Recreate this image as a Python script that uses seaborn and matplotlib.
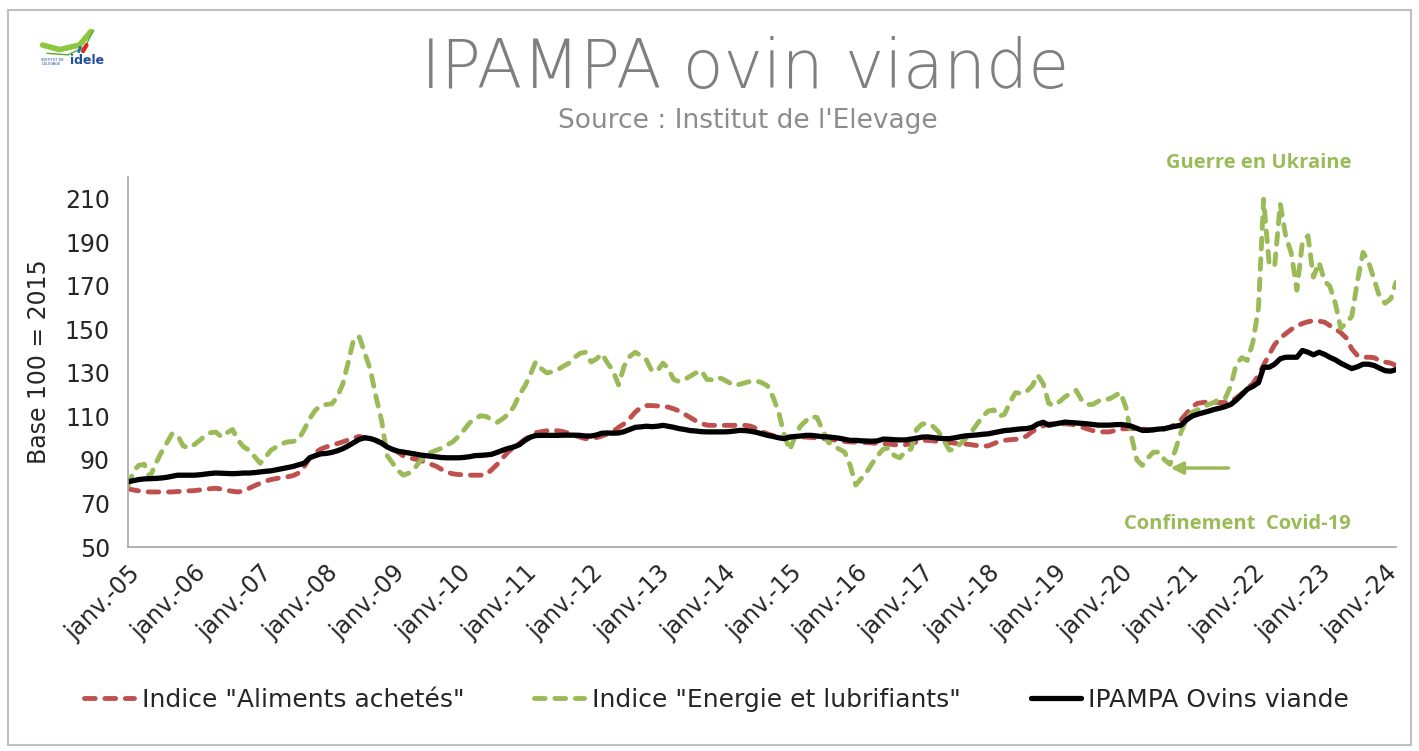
import matplotlib
matplotlib.use("Agg")
import matplotlib.pyplot as plt
from matplotlib.patches import Rectangle
from matplotlib.lines import Line2D
import numpy as np
import pandas as pd
import seaborn as sns

# monthly values, janv. 2005 -> mars 2024 (base 100 = 2015)
aliments = [
    76.8, 76.2, 75.8, 75.5, 75.3, 75.3, 75.3, 75.3, 75.3, 75.5, 75.6, 75.8,
    75.9, 76.2, 76.5, 76.8, 77.0, 76.6, 76.0, 75.6, 75.3, 75.8, 77.0, 78.2,
    79.3, 80.3, 81.0, 81.5, 81.9, 82.3, 82.8, 84.0, 87.0, 91.0, 93.3, 95.0,
    96.0, 96.8, 97.5, 98.3, 99.2, 100.2, 100.8, 100.2, 99.6, 98.8, 97.5, 96.3,
    95.0, 93.5, 91.8, 91.0, 90.5, 89.8, 89.0, 88.0, 87.0, 85.5, 84.3, 83.6,
    83.3, 83.2, 83.0, 83.0, 83.0, 83.3, 85.5, 88.0, 91.0, 93.8, 95.8, 97.5,
    99.5, 101.0, 102.5, 103.0, 103.4, 103.6, 103.4, 103.0, 102.2, 101.3, 100.5, 99.8,
    99.8, 100.3, 101.0, 102.0, 103.0, 105.0, 106.6, 109.0, 112.0, 114.0, 115.0, 115.0,
    114.8, 114.6, 114.3, 113.5, 112.5, 111.0, 109.5, 108.0, 106.8, 106.0, 105.9, 105.9,
    105.9, 105.9, 105.9, 105.9, 105.9, 105.5, 104.5, 103.0, 102.0, 101.2, 100.6, 100.4,
    100.6, 100.6, 100.6, 100.5, 100.3, 100.1, 99.9, 99.6, 99.2, 98.8, 98.5, 98.3,
    98.2, 98.0, 98.0, 97.8, 97.6, 97.5, 97.3, 97.0, 96.8, 97.0, 97.5, 98.3,
    99.0, 99.0, 98.8, 98.5, 98.3, 98.0, 97.7, 97.5, 97.3, 97.0, 96.6, 96.3,
    96.5, 97.5, 98.5, 99.0, 99.3, 99.5, 99.8, 101.0, 103.0, 104.5, 105.7, 106.5,
    106.6, 106.6, 106.6, 106.4, 106.0, 105.2, 104.3, 103.5, 103.0, 102.9, 102.9, 103.5,
    104.2, 104.4, 104.4, 104.4, 104.2, 104.0, 103.7, 103.8, 104.3, 105.0, 106.5, 108.5,
    111.5, 114.5, 116.0, 116.4, 116.8, 116.6, 116.4, 116.4, 116.8, 118.5, 120.5, 123.0,
    125.0, 129.0, 133.5, 138.5, 143.0, 146.0, 148.0, 150.0, 151.5, 152.7, 153.5, 154.0,
    153.8, 153.3, 151.8, 150.2, 148.5, 146.0, 141.0, 138.0, 137.2, 137.2, 137.0, 135.7,
    135.0, 134.5, 133.4,
]

energie = [
    78.0, 85.0, 87.5, 88.0, 82.0, 88.0, 93.0, 97.5, 102.0, 101.5, 96.5, 95.5,
    97.0, 99.0, 101.0, 102.5, 102.8, 100.6, 102.5, 104.0, 99.0, 96.0, 94.5, 91.5,
    88.5, 91.5, 94.5, 96.0, 97.5, 98.3, 98.5, 99.5, 104.0, 109.0, 112.8, 115.0,
    115.5, 115.8, 119.0, 125.0, 135.0, 146.0, 146.5, 139.0, 131.0, 119.0, 108.0, 92.0,
    88.5, 85.0, 83.0, 84.0, 86.0, 89.5, 92.0, 93.5, 94.5, 95.5, 97.0, 98.5,
    101.0, 104.0, 107.0, 109.0, 110.3, 110.0, 108.5, 107.3, 109.0, 111.0, 114.5, 120.0,
    124.0, 129.5, 135.0, 132.0, 130.0, 130.5, 131.5, 133.0, 134.5, 137.0, 139.0, 139.5,
    135.0, 136.5, 138.8, 134.5, 131.0, 124.5, 133.0, 137.5, 139.5, 138.0, 136.0, 131.0,
    131.0, 134.5, 132.0, 127.0, 126.0, 127.0, 128.5, 130.0, 131.0, 127.0, 126.8, 128.0,
    127.0, 125.5, 124.2, 124.8, 125.5, 126.2, 126.3, 125.5, 124.0, 119.0, 112.0, 102.0,
    94.5, 101.0, 105.5, 108.0, 110.0, 109.5, 104.0, 98.2, 96.5, 95.0, 93.6, 87.5,
    78.5, 81.5, 84.5, 88.5, 92.0, 95.0, 95.5, 92.0, 91.0, 94.0, 95.0, 104.0,
    106.5, 106.8, 105.5, 103.0, 99.0, 94.5, 95.0, 97.5, 100.0, 103.0, 106.5, 110.0,
    112.5, 113.0, 110.0, 111.0, 116.5, 121.0, 120.5, 121.5, 124.0, 129.0, 125.0, 116.0,
    115.0, 117.0, 119.0, 120.5, 122.0, 117.5, 115.5, 115.5, 117.0, 118.0, 118.0, 119.5,
    121.0, 114.0, 101.0, 90.0, 87.5, 91.0, 93.6, 93.6, 90.0, 88.0, 95.0, 103.0,
    109.0, 112.0, 113.0, 114.5, 115.5, 116.5, 118.0, 118.3, 124.0, 134.0, 137.0, 135.7,
    144.0, 160.0, 209.8, 180.0, 179.0, 207.6, 193.0, 185.0, 168.0, 190.0, 193.0, 174.0,
    180.8, 172.0, 170.0, 162.0, 150.5, 153.0, 156.0, 172.0, 185.4, 181.0, 173.0, 165.0,
    162.0, 164.0, 171.6,
]

ipampa = [
    80.0, 80.5, 81.0, 81.3, 81.4, 81.5, 81.7, 82.0, 82.5, 83.0, 83.0, 83.0,
    83.0, 83.2, 83.5, 83.8, 84.0, 83.9, 83.8, 83.7, 83.8, 84.0, 84.0, 84.2,
    84.5, 84.8, 85.0, 85.5, 86.0, 86.5, 87.0, 87.8, 88.5, 91.0, 92.0, 92.8,
    93.0, 93.5, 94.2, 95.2, 96.5, 98.0, 99.5, 100.2, 99.8, 99.0, 97.8, 96.0,
    94.8, 94.0, 93.6, 93.2, 92.8, 92.3, 92.0, 91.7, 91.4, 91.1, 91.0, 91.0,
    91.0, 91.2, 91.5, 92.0, 92.1, 92.3, 92.6, 93.5, 94.5, 95.3, 96.0, 97.0,
    99.0, 100.5, 101.2, 101.3, 101.3, 101.3, 101.3, 101.4, 101.4, 101.4, 101.3, 101.0,
    101.0, 101.5, 102.3, 102.4, 102.3, 102.4, 103.0, 104.0, 105.0, 105.2, 105.5, 105.3,
    105.5, 105.9, 105.5, 105.0, 104.4, 104.0, 103.5, 103.3, 103.0, 102.9, 102.9, 102.9,
    102.9, 103.0, 103.3, 103.6, 103.5, 103.2, 102.7, 102.0, 101.3, 100.8, 100.2, 99.8,
    100.5, 100.8, 101.0, 101.3, 101.3, 101.0, 100.7, 100.6, 100.3, 100.0, 99.5, 99.0,
    99.0, 98.8, 98.7, 98.6, 98.8, 99.6, 99.5, 99.3, 99.2, 99.2, 99.6, 100.0,
    100.5, 100.6, 100.3, 100.0, 99.8, 99.8, 100.2, 100.7, 101.1, 101.3, 101.5, 101.8,
    102.0, 102.5, 103.0, 103.5, 103.7, 104.0, 104.3, 104.4, 105.0, 106.5, 107.3, 106.0,
    106.5, 107.0, 107.4, 107.2, 107.0, 106.8, 106.6, 106.3, 106.0, 106.0, 106.0, 106.2,
    106.3, 106.0, 105.5, 104.5, 103.6, 103.6, 103.9, 104.2, 104.4, 105.0, 105.5, 106.0,
    108.5, 110.2, 111.0, 111.7, 112.4, 113.2, 113.8, 114.5, 115.5, 117.5, 120.0, 122.5,
    123.8, 125.5, 132.6, 132.6, 134.0, 136.5, 137.2, 137.2, 137.2, 140.3, 139.5, 138.3,
    139.5, 138.5, 137.2, 136.0, 134.5, 133.2, 132.0, 132.8, 134.0, 134.0, 133.4, 132.2,
    131.0, 130.8, 131.5,
]

years = list(range(2005, 2025))
year_labels = [f"janv.-{y % 100:02d}" for y in years]
series_names = ['Indice "Aliments achetés"', 'Indice "Energie et lubrifiants"', "IPAMPA Ovins viande"]

RED = "#c0504d"
GREEN = "#9bbb59"
GREY = "#7f7f7f"

sns.set_style("white")
plt.rcParams["font.family"] = ["DejaVu Sans"]

dates = pd.date_range("2005-01-01", periods=len(ipampa), freq="MS")
df = pd.DataFrame({"date": dates, "aliments": aliments, "energie": energie, "ipampa": ipampa})

fig = plt.figure(figsize=(14.19, 7.51), dpi=100)
ax = fig.add_axes([0.0902, 0.2716, 0.8936, 0.4927])

dash = (0, (2.2, 2.0))
sns.lineplot(data=df, x="date", y="aliments", ax=ax, color=RED, linewidth=3.5,
             linestyle=dash, dash_capstyle="round", label=series_names[0])
sns.lineplot(data=df, x="date", y="energie", ax=ax, color=GREEN, linewidth=3.5,
             linestyle=dash, dash_capstyle="round", label=series_names[1])
sns.lineplot(data=df, x="date", y="ipampa", ax=ax, color="black", linewidth=3.8,
             label=series_names[2])

ax.set_ylim(50, 220)
ax.set_yticks(np.arange(50, 211, 20))
ax.set_xlim(dates[0], dates[-1])
ax.set_xticks(pd.to_datetime([f"{y}-01-01" for y in years]))
ax.set_xticklabels(year_labels, rotation=45, ha="right", rotation_mode="anchor")
ax.set_xlabel("")
ax.set_ylabel("Base 100 = 2015", fontsize=17, labelpad=10)

for side in ["top", "right"]:
    ax.spines[side].set_visible(False)
for side in ["left", "bottom"]:
    ax.spines[side].set_color("#a6a6a6")
    ax.spines[side].set_linewidth(1.2)
ax.tick_params(axis="y", direction="out", length=7, width=1.2, color="#a6a6a6",
               labelsize=17, pad=6)
ax.tick_params(axis="x", direction="out", length=6, width=1.2, color="#a6a6a6",
               labelsize=17, pad=4)

# legend under the chart
handles, labels = ax.get_legend_handles_labels()
ax.get_legend().remove()
fig.legend(handles, labels, loc="center", bbox_to_anchor=(0.505, 0.068), ncol=3,
           frameon=False, fontsize=18, handlelength=2.0, columnspacing=2.8,
           handletextpad=0.3)

# titles
fig.text(0.525, 0.883, "IPAMPA ovin viande", ha="center", va="baseline",
         fontsize=48, color=GREY, fontweight="light")
fig.text(0.527, 0.830, "Source : Institut de l'Elevage", ha="center", va="baseline",
         fontsize=19, color="#8c8c8c")

# annotations
ax.text(0.892, 1.025, "Guerre en Ukraine", transform=ax.transAxes, ha="center",
        va="baseline", fontsize=14.5, fontweight="bold", color=GREEN,
        family=["Open Sans", "DejaVu Sans"])
ax.text(0.875, 0.05, "Confinement  Covid-19", transform=ax.transAxes, ha="center",
        va="baseline", fontsize=14.5, fontweight="bold", color=GREEN,
        family=["Open Sans", "DejaVu Sans"])
ax.annotate("", xy=(0.820, 0.2135), xytext=(0.870, 0.2135), xycoords="axes fraction",
            arrowprops=dict(arrowstyle="-|>", color=GREEN, lw=2.5, mutation_scale=18))

# logo (simplified)
fig.add_artist(Line2D([0.030, 0.042, 0.056, 0.064], [0.940, 0.934, 0.940, 0.958],
                      color="#8dc63f", lw=4, solid_capstyle="round",
                      transform=fig.transFigure))
fig.add_artist(Line2D([0.033, 0.048, 0.060, 0.066], [0.929, 0.927, 0.938, 0.960],
                      color="#5aa832", lw=1.0, transform=fig.transFigure))
fig.add_artist(Line2D([0.0585, 0.061], [0.932, 0.940], color="#e2231a", lw=3,
                      transform=fig.transFigure))
fig.add_artist(Line2D([0.0555, 0.0565], [0.931, 0.937], color="#1f6fb5", lw=2,
                      transform=fig.transFigure))
fig.text(0.029, 0.918, "INSTITUT DE\nL'ELEVAGE", fontsize=2.6, color="#1f4e9c",
         ha="left", va="center", linespacing=1.0)
fig.text(0.0495, 0.919, "idele", fontsize=9, color="#1f4e9c", fontweight="bold",
         ha="left", va="center")

# outer frame
fig.add_artist(Rectangle((0.0056, 0.008), 0.9887, 0.9787, transform=fig.transFigure,
                         fill=False, edgecolor="#bfbfbf", lw=1.5))

fig.savefig("out.png", dpi=100)
